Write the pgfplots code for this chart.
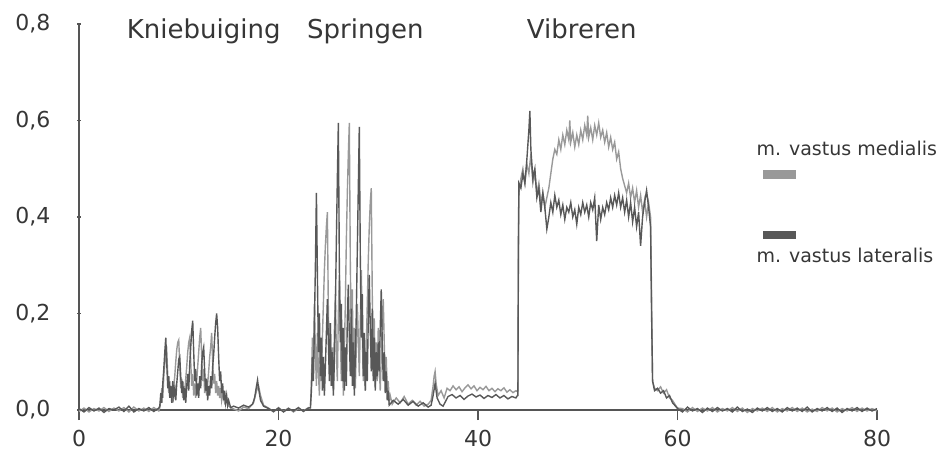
\documentclass[border=0pt]{standalone}
\usepackage{pgfplots}
\pgfplotsset{compat=1.18}
\usepackage{fontspec}
\setmainfont{DejaVu Sans}

\definecolor{txt}{HTML}{363636}
\definecolor{axisgray}{HTML}{555555}
\definecolor{medialis}{HTML}{999999}
\definecolor{lateralis}{HTML}{585858}

\begin{document}
\begin{tikzpicture}
\path[use as bounding box] (0,0) rectangle (941pt,458pt);
\begin{axis}[
    at={(79pt,48pt)}, anchor=origin,
    width=798pt, height=386pt, scale only axis,
    xmin=0, xmax=80, ymin=0, ymax=0.8,
    clip=false,
    axis x line=bottom, axis y line=left,
    axis line style={-, draw=axisgray, line width=1.8pt},
    xtick={0,20,40,60,80},
    xticklabels={0,20,40,60,80},
    ytick={0,0.2,0.4,0.6,0.8},
    yticklabels={{0,0},{0,2},{0,4},{0,6},{0,8}},
    ticklabel style={font=\fontsize{22}{24}\selectfont, text=txt},
    x tick label style={yshift=-15pt},
    y tick label style={xshift=-23pt},
    xtick style={draw=axisgray, line width=1.4pt, /pgfplots/major tick length=10pt, /pgfplots/tick align=outside},
    ytick style={draw=axisgray, line width=1.8pt, /pgfplots/major tick length=4pt, /pgfplots/tick align=center},
]

% m. vastus medialis
\addplot[color=medialis, line width=1.4pt] coordinates {
(0,-0.003)(0.5,0.004)(1,-0.004)(1.5,0.003)(2,-0.002)(2.5,0.005)(3,-0.003)(3.5,0.004)(4,-0.002)(4.5,0.005)(5,-0.004)(5.5,0.006)(6,-0.002)(6.5,0.004)(7,-0.003)(7.5,0.005)(8,-0.002)
(8.1,0.005)(8.2,0.020)(8.3,0.045)(8.4,0.025)(8.5,0.070)(8.6,0.095)(8.7,0.110)(8.8,0.120)(8.9,0.070)(9.0,0.035)
(9.1,0.060)(9.2,0.025)(9.3,0.045)(9.4,0.015)(9.5,0.050)(9.6,0.070)(9.7,0.100)(9.8,0.125)(9.9,0.140)(10.0,0.145)
(10.1,0.090)(10.2,0.045)(10.3,0.065)(10.4,0.025)(10.5,0.050)(10.6,0.030)(10.7,0.065)(10.8,0.090)(10.9,0.120)(11.0,0.140)
(11.1,0.150)(11.2,0.100)(11.3,0.050)(11.4,0.075)(11.5,0.030)(11.6,0.055)(11.7,0.025)(11.8,0.060)(11.9,0.090)(12.0,0.120)
(12.1,0.150)(12.2,0.170)(12.3,0.110)(12.4,0.060)(12.5,0.085)(12.6,0.035)(12.7,0.060)(12.8,0.030)(12.9,0.055)(13.0,0.080)
(13.1,0.110)(13.2,0.130)(13.3,0.160)(13.4,0.100)(13.5,0.055)(13.6,0.075)(13.7,0.035)(13.8,0.060)(13.9,0.030)(14.0,0.050)
(14.1,0.025)(14.2,0.045)(14.3,0.020)(14.4,0.035)(14.6,0.015)(14.8,0.025)(15.0,0.008)(15.3,0.004)
(16,-0.002)(16.5,0.006)(17,0.003)(17.5,0.015)(17.8,0.040)(18.0,0.050)(18.2,0.030)(18.5,0.010)(19,0.004)(19.5,-0.004)
(20,0.005)(20.5,-0.003)(21,0.004)(21.5,-0.004)(22,0.003)(22.5,-0.002)(23,0.005)
(23.2,0.004)(23.3,0.060)(23.4,0.150)(23.5,0.090)(23.6,0.220)(23.7,0.120)(23.8,0.050)(23.9,0.160)(24.0,0.080)
(24.1,0.030)(24.2,0.120)(24.3,0.060)(24.4,0.150)(24.5,0.220)(24.6,0.290)(24.7,0.340)(24.8,0.380)(24.9,0.410)(25.0,0.200)
(25.1,0.110)(25.2,0.180)(25.3,0.050)(25.4,0.130)(25.5,0.040)(25.6,0.160)(25.7,0.240)(25.8,0.120)(25.9,0.060)(26.0,0.200)
(26.1,0.280)(26.2,0.160)(26.3,0.060)(26.4,0.140)(26.5,0.030)(26.6,0.120)(26.7,0.220)(26.8,0.350)(26.9,0.450)(27.0,0.530)
(27.1,0.595)(27.2,0.300)(27.3,0.140)(27.4,0.250)(27.5,0.060)(27.6,0.170)(27.7,0.045)(27.8,0.130)(27.9,0.220)(28.0,0.150)
(28.1,0.070)(28.2,0.180)(28.3,0.290)(28.4,0.160)(28.5,0.060)(28.6,0.150)(28.7,0.040)(28.8,0.130)(28.9,0.220)(29.0,0.310)
(29.1,0.380)(29.2,0.430)(29.3,0.460)(29.4,0.240)(29.5,0.120)(29.6,0.190)(29.7,0.050)(29.8,0.140)(29.9,0.060)(30.0,0.170)
(30.1,0.090)(30.2,0.040)(30.3,0.110)(30.4,0.180)(30.5,0.230)(30.6,0.140)(30.7,0.060)(30.8,0.110)(30.9,0.040)(31.0,0.060)
(31.1,0.020)(31.2,0.030)(31.4,0.012)
(31.8,0.025)(32.2,0.015)(32.6,0.028)(33,0.012)(33.4,0.020)(33.8,0.010)(34.2,0.018)(34.6,0.008)(35,0.012)(35.3,0.020)
(35.5,0.050)(35.6,0.070)(35.7,0.080)(35.8,0.055)(36.0,0.030)(36.3,0.040)(36.6,0.025)(36.9,0.045)(37.2,0.040)(37.5,0.050)
(37.8,0.042)(38.1,0.048)(38.4,0.038)(38.7,0.046)(39.0,0.052)(39.3,0.044)(39.6,0.050)(39.9,0.040)(40.2,0.047)(40.5,0.042)
(40.8,0.049)(41.1,0.040)(41.4,0.045)(41.7,0.038)(42.0,0.044)(42.3,0.040)(42.6,0.046)(42.9,0.037)(43.2,0.042)(43.5,0.036)
(43.8,0.040)(43.95,0.038)
(44.0,0.040)(44.05,0.300)(44.1,0.450)(44.3,0.480)(44.5,0.500)(44.7,0.470)(44.9,0.510)(45.1,0.490)(45.3,0.530)(45.5,0.470)
(45.7,0.490)(45.9,0.450)(46.1,0.470)(46.3,0.430)(46.5,0.450)(46.7,0.420)(46.9,0.440)(47.1,0.460)(47.3,0.490)(47.5,0.520)
(47.7,0.540)(47.9,0.530)(48.1,0.560)(48.3,0.540)(48.5,0.570)(48.7,0.550)(48.9,0.580)(49.1,0.560)(49.2,0.600)(49.3,0.555)
(49.5,0.575)(49.7,0.545)(49.9,0.570)(50.1,0.550)(50.3,0.580)(50.5,0.560)(50.7,0.590)(50.9,0.570)(51.0,0.610)(51.1,0.565)
(51.3,0.585)(51.5,0.560)(51.7,0.590)(51.9,0.570)(52.1,0.595)(52.3,0.565)(52.5,0.580)(52.7,0.555)(52.9,0.575)(53.1,0.545)
(53.3,0.565)(53.5,0.540)(53.7,0.555)(53.9,0.520)(54.1,0.535)(54.3,0.500)(54.5,0.480)(54.7,0.465)(54.9,0.450)(55.1,0.470)
(55.3,0.440)(55.5,0.460)(55.7,0.430)(55.9,0.455)(56.1,0.420)(56.3,0.445)(56.5,0.410)(56.7,0.435)(56.9,0.400)(57.1,0.430)
(57.3,0.400)(57.5,0.060)(57.7,0.045)(58.0,0.040)(58.3,0.048)(58.6,0.035)(58.9,0.042)(59.2,0.025)(59.5,0.020)(59.8,0.010)
(60.0,0.004)
(60.5,0.003)(61,-0.004)(61.5,0.005)(62,-0.003)(62.5,0.004)(63,-0.002)(63.5,0.005)(64,-0.004)(64.5,0.003)(65,-0.002)
(65.5,0.005)(66,-0.003)(66.5,0.004)(67,-0.005)(67.5,0.003)(68,-0.002)(68.5,0.004)(69,-0.003)(69.5,0.005)(70,-0.004)
(70.5,0.003)(71,-0.002)(71.5,0.005)(72,-0.003)(72.5,0.004)(73,-0.004)(73.5,0.002)(74,-0.003)(74.5,0.005)(75,-0.002)
(75.5,0.004)(76,-0.004)(76.5,0.003)(77,-0.002)(77.5,0.005)(78,-0.003)(78.5,0.004)(79,-0.002)(79.5,0.003)(80,-0.002)
};

% m. vastus lateralis
\addplot[color=lateralis, line width=1.4pt] coordinates {
(0,0.003)(0.5,-0.004)(1,0.005)(1.5,-0.002)(2,0.004)(2.5,-0.005)(3,0.003)(3.5,0.000)(4,0.006)(4.5,-0.003)(5,0.008)(5.5,-0.004)(6,0.003)(6.5,-0.002)(7,0.005)(7.5,-0.003)(8,0.004)
(8.1,0.008)(8.2,0.035)(8.3,0.015)(8.4,0.055)(8.5,0.085)(8.6,0.120)(8.7,0.150)(8.8,0.095)(8.9,0.045)(9.0,0.070)
(9.1,0.025)(9.2,0.050)(9.3,0.015)(9.4,0.060)(9.5,0.030)(9.6,0.045)(9.7,0.020)(9.8,0.055)(9.9,0.080)(10.0,0.105)
(10.1,0.110)(10.2,0.070)(10.3,0.035)(10.4,0.060)(10.5,0.020)(10.6,0.045)(10.7,0.015)(10.8,0.050)(10.9,0.075)(11.0,0.040)
(11.1,0.095)(11.2,0.130)(11.3,0.165)(11.4,0.185)(11.5,0.120)(11.6,0.060)(11.7,0.085)(11.8,0.030)(11.9,0.055)(12.0,0.025)
(12.1,0.070)(12.2,0.045)(12.3,0.095)(12.4,0.120)(12.5,0.130)(12.6,0.080)(12.7,0.040)(12.8,0.065)(12.9,0.020)(13.0,0.050)
(13.1,0.030)(13.2,0.070)(13.3,0.045)(13.4,0.090)(13.5,0.115)(13.6,0.150)(13.7,0.180)(13.8,0.200)(13.9,0.170)(14.0,0.110)
(14.1,0.060)(14.2,0.080)(14.3,0.035)(14.4,0.055)(14.5,0.020)(14.6,0.040)(14.7,0.015)(14.8,0.030)(14.9,0.010)(15.0,0.020)
(15.2,0.005)(15.5,0.008)
(16,0.004)(16.5,0.010)(17,0.006)(17.4,0.012)(17.6,0.025)(17.8,0.050)(17.9,0.062)(18.0,0.045)(18.2,0.020)(18.5,0.008)
(19,0.003)(19.5,-0.003)(20,0.004)(20.5,-0.004)(21,0.003)(21.5,-0.002)(22,0.005)(22.5,-0.003)(23,0.004)
(23.2,0.005)(23.3,0.040)(23.4,0.110)(23.5,0.060)(23.6,0.180)(23.7,0.300)(23.8,0.450)(23.9,0.280)(24.0,0.120)
(24.1,0.200)(24.2,0.070)(24.3,0.150)(24.4,0.040)(24.5,0.110)(24.6,0.030)(24.7,0.090)(24.8,0.160)(24.9,0.230)(25.0,0.140)
(25.1,0.060)(25.2,0.180)(25.3,0.050)(25.4,0.120)(25.5,0.030)(25.6,0.100)(25.7,0.210)(25.8,0.350)(25.9,0.480)(26.0,0.595)
(26.1,0.300)(26.2,0.140)(26.3,0.220)(26.4,0.060)(26.5,0.170)(26.6,0.040)(26.7,0.130)(26.8,0.050)(26.9,0.190)(27.0,0.260)
(27.1,0.150)(27.2,0.070)(27.3,0.210)(27.4,0.050)(27.5,0.140)(27.6,0.030)(27.7,0.110)(27.8,0.200)(27.9,0.330)(28.0,0.460)
(28.1,0.587)(28.2,0.320)(28.3,0.150)(28.4,0.240)(28.5,0.070)(28.6,0.160)(28.7,0.040)(28.8,0.120)(28.9,0.060)(29.0,0.190)
(29.1,0.280)(29.2,0.170)(29.3,0.080)(29.4,0.210)(29.5,0.060)(29.6,0.150)(29.7,0.040)(29.8,0.120)(29.9,0.070)(30.0,0.140)
(30.1,0.080)(30.2,0.170)(30.3,0.250)(30.4,0.140)(30.5,0.060)(30.6,0.120)(30.7,0.035)(30.8,0.080)(30.9,0.020)(31.0,0.040)
(31.1,0.010)(31.3,0.015)
(31.5,0.020)(32,0.012)(32.5,0.022)(33,0.010)(33.5,0.018)(34,0.008)(34.5,0.015)(35,0.006)(35.3,0.010)(35.5,0.030)
(35.7,0.055)(35.9,0.025)(36.2,0.012)(36.5,0.008)(36.8,0.020)(37.0,0.028)(37.4,0.032)(37.8,0.025)(38.2,0.030)(38.6,0.022)
(39.0,0.029)(39.4,0.033)(39.8,0.027)(40.2,0.031)(40.6,0.024)(41.0,0.030)(41.4,0.026)(41.8,0.032)(42.2,0.025)(42.6,0.030)
(43.0,0.023)(43.4,0.028)(43.8,0.025)(43.95,0.030)
(44.0,0.030)(44.05,0.350)(44.1,0.470)(44.3,0.460)(44.5,0.490)(44.7,0.470)(44.9,0.520)(45.1,0.580)(45.2,0.620)(45.3,0.540)
(45.5,0.480)(45.7,0.500)(45.9,0.440)(46.1,0.460)(46.3,0.410)(46.5,0.450)(46.7,0.420)(46.9,0.375)(47.1,0.400)(47.3,0.430)
(47.5,0.410)(47.7,0.445)(47.9,0.420)(48.1,0.435)(48.3,0.405)(48.5,0.425)(48.7,0.395)(48.9,0.420)(49.1,0.410)(49.3,0.430)
(49.5,0.400)(49.7,0.415)(49.9,0.385)(50.1,0.420)(50.3,0.405)(50.5,0.430)(50.7,0.410)(50.9,0.425)(51.1,0.400)(51.3,0.430)
(51.5,0.415)(51.7,0.440)(51.9,0.350)(52.1,0.425)(52.3,0.395)(52.5,0.420)(52.7,0.405)(52.9,0.430)(53.1,0.415)(53.3,0.440)
(53.5,0.420)(53.7,0.445)(53.9,0.425)(54.1,0.450)(54.3,0.420)(54.5,0.440)(54.7,0.410)(54.9,0.435)(55.1,0.400)(55.3,0.430)
(55.5,0.390)(55.7,0.420)(55.9,0.380)(56.1,0.410)(56.3,0.340)(56.5,0.400)(56.7,0.430)(56.9,0.455)(57.1,0.420)(57.3,0.380)
(57.4,0.200)(57.5,0.060)(57.7,0.040)(58.0,0.045)(58.3,0.035)(58.6,0.040)(58.9,0.025)(59.2,0.030)(59.5,0.015)(59.8,0.008)
(60.0,0.003)
(60.5,-0.004)(61,0.006)(61.5,-0.002)(62,0.003)(62.5,-0.005)(63,0.004)(63.5,-0.003)(64,0.005)(64.5,-0.002)(65,0.003)
(65.5,-0.004)(66,0.006)(66.5,-0.003)(67,0.002)(67.5,-0.005)(68,0.004)(68.5,-0.002)(69,0.005)(69.5,-0.003)(70,0.003)
(70.5,-0.004)(71,0.005)(71.5,-0.002)(72,0.004)(72.5,-0.003)(73,0.006)(73.5,-0.004)(74,0.003)(74.5,-0.002)(75,0.005)
(75.5,-0.003)(76,0.004)(76.5,-0.005)(77,0.003)(77.5,-0.002)(78,0.005)(78.5,-0.003)(79,0.004)(79.5,-0.002)(80,0.003)
};

% phase labels
\node[text=txt, font=\fontsize{26}{28}\selectfont] at (axis cs:12.5,0.785) {Kniebuiging};
\node[text=txt, font=\fontsize{26}{28}\selectfont] at (axis cs:28.7,0.785) {Springen};
\node[text=txt, font=\fontsize{26}{28}\selectfont] at (axis cs:50.4,0.79) {Vibreren};

% legend
\node[anchor=west, inner sep=0pt, text=txt, font=\fontsize{19}{21}\selectfont] at (axis cs:67.9,0.543) {m. vastus medialis};
\fill[medialis] (axis cs:68.6,0.479) rectangle (axis cs:71.9,0.497);
\fill[lateralis] (axis cs:68.6,0.355) rectangle (axis cs:71.9,0.371);
\node[anchor=west, inner sep=0pt, text=txt, font=\fontsize{19}{21}\selectfont] at (axis cs:67.9,0.321) {m. vastus lateralis};
\end{axis}
\end{tikzpicture}
\end{document}
